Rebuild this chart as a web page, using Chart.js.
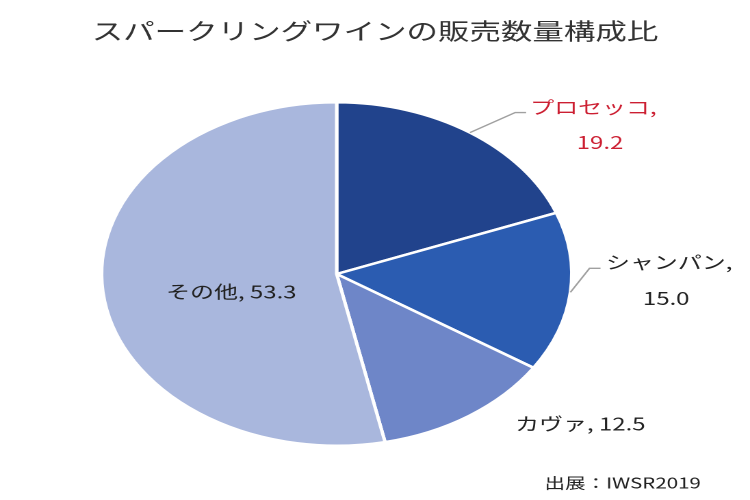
<!DOCTYPE html>
<html lang="ja">
<head>
    <meta charset="UTF-8">
    <title>スパークリングワインの販売数量構成比</title>
    <script src="https://cdn.jsdelivr.net/npm/chart.js@4.4.0/dist/chart.umd.min.js"></script>
    <style>
        body {
            margin: 0;
            background: #ffffff;
            overflow: hidden;
        }
        /* the original picture is stretched sideways, so draw narrow and widen it */
        .stretch {
            width: 548px;
            height: 500px;
            transform: scaleX(1.3686);
            transform-origin: 0 0;
        }
    </style>
</head>
<body>
    <div class="stretch">
        <canvas id="pieChart"></canvas>
    </div>

    <script>
        // --- data ---
        const categories = ['プロセッコ', 'シャンパン', 'カヴァ', 'その他'];
        const shares = [19.2, 15.0, 12.5, 53.3];
        const sliceColors = ['#21438c', '#2b5cb1', '#6e86c8', '#a9b7dd'];
        const labelColors = ['#cc1f32', '#222222', '#222222', '#222222'];
        const chartTitle = 'スパークリングワインの販売数量構成比';
        const sourceNote = '出展：IWSR2019';

        const fontFamily = '"Noto Sans CJK JP", "Noto Sans", sans-serif';

        // label placement: 'leader' is relative to the rim point at the slice's mid angle,
        // 'one' is relative to the pie centre
        const labelLayout = [
            { mode: 'leader', elbow: [33, -20], tail: 8, line1: [44, -25], line2: [95, 10] },
            { mode: 'leader', elbow: [14, -24], tail: 8, line1: [26, -30], line2: [70, 6] },
            { mode: 'one', at: [178, 150] },
            { mode: 'one', at: [-77, 18] }
        ];

        function fmt(v) {
            return v.toFixed(1);
        }

        const labelPlugin = {
            id: 'sliceLabels',
            afterDraw(chart) {
                const ctx = chart.ctx;
                const meta = chart.getDatasetMeta(0);
                ctx.save();
                ctx.textBaseline = 'middle';

                meta.data.forEach((arc, i) => {
                    const p = arc.getProps(['x', 'y', 'startAngle', 'endAngle', 'outerRadius'], true);
                    const mid = (p.startAngle + p.endAngle) / 2;
                    const rx = p.x + Math.cos(mid) * p.outerRadius;
                    const ry = p.y + Math.sin(mid) * p.outerRadius;
                    const lay = labelLayout[i];
                    ctx.fillStyle = labelColors[i];
                    ctx.font = '17.5px ' + fontFamily;

                    if (lay.mode === 'leader') {
                        ctx.strokeStyle = '#a0a0a0';
                        ctx.lineWidth = 1.3;
                        ctx.beginPath();
                        ctx.moveTo(rx, ry);
                        ctx.lineTo(rx + lay.elbow[0], ry + lay.elbow[1]);
                        ctx.lineTo(rx + lay.elbow[0] + lay.tail, ry + lay.elbow[1]);
                        ctx.stroke();

                        ctx.textAlign = 'left';
                        ctx.fillText(categories[i] + ',', rx + lay.line1[0], ry + lay.line1[1]);
                        ctx.textAlign = 'center';
                        ctx.fillText(fmt(shares[i]), rx + lay.line2[0], ry + lay.line2[1]);
                    } else {
                        ctx.textAlign = 'center';
                        ctx.fillText(categories[i] + ', ' + fmt(shares[i]),
                            p.x + lay.at[0], p.y + lay.at[1]);
                    }
                });

                // title and source note
                ctx.fillStyle = '#333333';
                ctx.textAlign = 'center';
                ctx.font = '23px ' + fontFamily;
                ctx.fillText(chartTitle, chart.width / 2, 31);
                ctx.font = '15px ' + fontFamily;
                ctx.fillStyle = '#222222';
                ctx.fillText(sourceNote, 455, 483);
                ctx.restore();
            }
        };

        new Chart(document.getElementById('pieChart'), {
            type: 'pie',
            data: {
                labels: categories,
                datasets: [{
                    data: shares,
                    backgroundColor: sliceColors,
                    borderColor: '#ffffff',
                    borderWidth: 2.5
                }]
            },
            options: {
                responsive: true,
                maintainAspectRatio: false,
                animation: false,
                devicePixelRatio: 2,
                layout: { padding: { top: 101, bottom: 53, left: 60, right: 116 } },
                plugins: {
                    legend: { display: false },
                    tooltip: { enabled: false }
                }
            },
            plugins: [labelPlugin]
        });
    </script>
</body>
</html>
